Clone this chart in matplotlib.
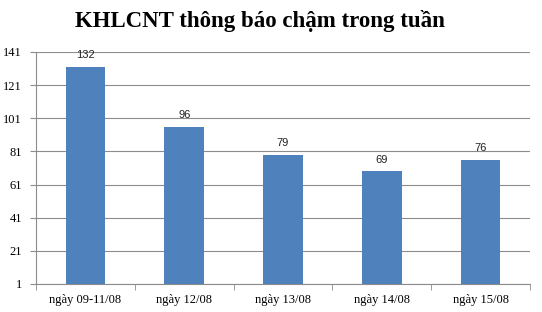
import matplotlib
matplotlib.use('Agg')
import matplotlib.pyplot as plt
import numpy as np

categories = ['ngày 09-11/08', 'ngày 12/08', 'ngày 13/08', 'ngày 14/08', 'ngày 15/08']
values = [132, 96, 79, 69, 76]
y_ticks = [1, 21, 41, 61, 81, 101, 121, 141]

fig = plt.figure(figsize=(5.42, 3.12), dpi=100)
ax = fig.add_axes([36 / 542, 1 - 284 / 312, (530 - 36) / 542, (284 - 52) / 312])

x = np.arange(len(categories))
ax.bar(x, values, width=0.4, color='#4F81BD', zorder=3)

for xi, v in zip(x, values):
    ax.text(xi, v + 4, str(v), ha='center', va='bottom', fontsize=8,
            family='Liberation Sans', color='#222222', zorder=4)

ax.set_ylim(1, 141)
ax.set_xlim(-0.5, len(categories) - 0.5)
ax.set_yticks(y_ticks)
ax.set_yticklabels([str(t) for t in y_ticks], family='Liberation Serif', fontsize=9)
ax.yaxis.grid(True, color='#8c8c8c', linewidth=0.8, zorder=0)

ax.set_xticks(x)
ax.set_xticklabels(categories, family='Liberation Serif', fontsize=9)
ax.tick_params(axis='x', length=0, pad=7)
ax.set_xticks(np.arange(-0.5, len(categories)), minor=True)
ax.tick_params(axis='x', which='minor', length=4, color='#8c8c8c')
ax.tick_params(axis='y', length=4, color='#8c8c8c', pad=6)

for side in ['top', 'right']:
    ax.spines[side].set_visible(False)
ax.spines['left'].set_color('#8c8c8c')
ax.spines['bottom'].set_color('#8c8c8c')

fig.text(260 / 542, 1 - 21 / 312, 'KHLCNT thông báo chậm trong tuần', ha='center', va='center',
         family='Liberation Serif', fontweight='bold', fontsize=16.5)

fig.savefig('out.png', dpi=100)
